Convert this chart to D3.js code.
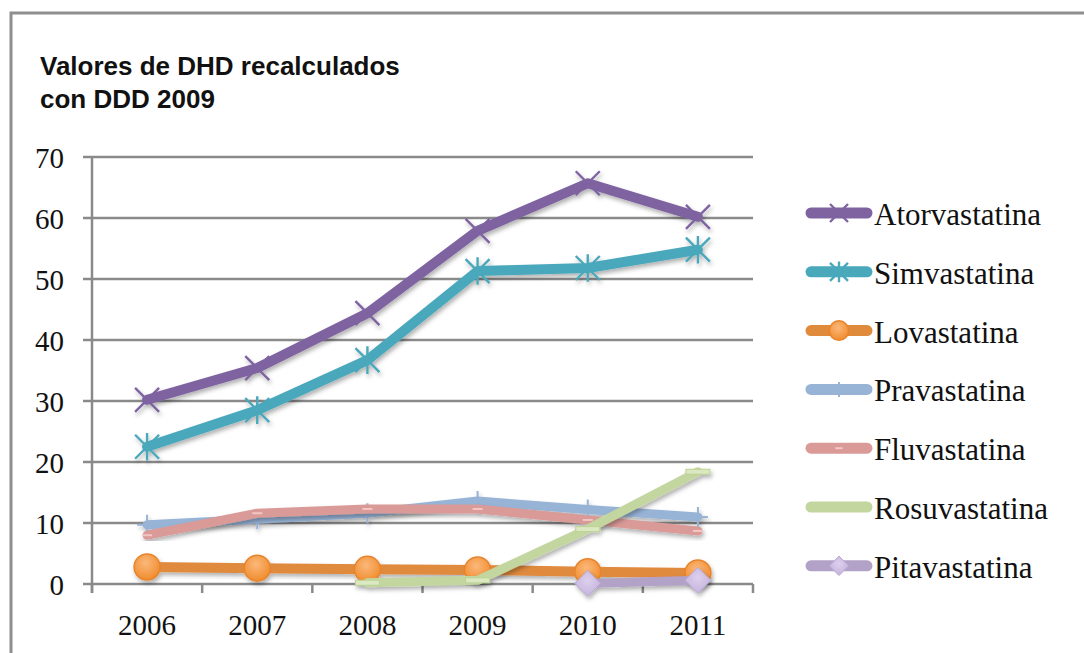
<!DOCTYPE html>
<html lang="es">
<head>
  <meta charset="UTF-8">
  <title>Valores de DHD recalculados</title>
  <style>
    html, body { margin: 0; padding: 0; background: #fff; }
    svg { display: block; }
    .title { font-family: "Liberation Sans", Arial, sans-serif; font-weight: bold; font-size: 26px; fill: #111; }
    .tick-label, .legend-label { font-family: "Liberation Serif", "Times New Roman", serif; fill: #111; }
    .tick-label { font-size: 29px; }
    .legend-label { font-size: 31px; }
  </style>
</head>
<body>
  <svg class="chart"></svg>
  <script src="https://cdnjs.cloudflare.com/ajax/libs/d3/7.8.5/d3.min.js"></script>
  <script>
    // datos
    const years = ['2006', '2007', '2008', '2009', '2010', '2011'];
    const yTicks = [0, 10, 20, 30, 40, 50, 60, 70];
    const seriesNames = ['Atorvastatina', 'Simvastatina', 'Lovastatina', 'Pravastatina', 'Fluvastatina', 'Rosuvastatina', 'Pitavastatina'];
    const atorvastatina = [30.2, 35.4, 44.4, 57.9, 65.7, 60.2];
    const simvastatina = [22.5, 28.5, 36.7, 51.3, 51.8, 54.8];
    const lovastatina = [2.8, 2.6, 2.4, 2.3, 2.0, 1.8];
    const pravastatina = [9.7, 10.6, 11.6, 13.6, 12.2, 11.0];
    const fluvastatina = [8.0, 11.6, 12.3, 12.3, 10.5, 8.7];
    const rosuvastatina = [null, null, 0.2, 0.6, 9.0, 18.4];
    const pitavastatina = [null, null, null, null, 0.1, 0.6];

    (function (d3) {
      const values = [atorvastatina, simvastatina, lovastatina, pravastatina, fluvastatina, rosuvastatina, pitavastatina];
      const colors = ['#7f63a1', '#4aa8bb', '#e08a3c', '#97b3d6', '#d99a98', '#c3d6a0', '#b3a2c8'];
      const markers = ['x', 'star', 'circle', 'plus', 'dash', 'bar', 'diamond'];
      const lineWidths = [10, 10, 10, 9, 9, 9, 9];

      const W = 1084, H = 653;
      const plotLeft = 92, plotRight = 753, plotTop = 157, plotBottom = 584;

      const svg = d3.select('svg.chart').attr('width', W).attr('height', H);

      const defs = svg.append('defs');
      const shadow = defs.append('filter').attr('id', 'shadow')
        .attr('x', '-20%').attr('y', '-20%').attr('width', '140%').attr('height', '140%');
      shadow.append('feDropShadow').attr('dx', 1.5).attr('dy', 3).attr('stdDeviation', 2)
        .attr('flood-color', '#000').attr('flood-opacity', 0.3);

      const orangeGrad = defs.append('radialGradient').attr('id', 'orangeGrad')
        .attr('cx', '45%').attr('cy', '35%').attr('r', '65%');
      orangeGrad.append('stop').attr('offset', '0%').attr('stop-color', '#fbb87a');
      orangeGrad.append('stop').attr('offset', '100%').attr('stop-color', '#f08c2e');

      const diamondGrad = defs.append('radialGradient').attr('id', 'diamondGrad')
        .attr('cx', '50%').attr('cy', '40%').attr('r', '60%');
      diamondGrad.append('stop').attr('offset', '0%').attr('stop-color', '#ddd0ee');
      diamondGrad.append('stop').attr('offset', '100%').attr('stop-color', '#c4b3dc');

      // marco exterior
      svg.append('rect')
        .attr('x', 11).attr('y', 13).attr('width', W + 20).attr('height', H + 20)
        .attr('fill', 'none').attr('stroke', '#8e8e8e').attr('stroke-width', 3);

      // título
      const title = svg.append('text').attr('class', 'title').attr('x', 40);
      title.append('tspan').attr('x', 40).attr('y', 75).text('Valores de DHD recalculados');
      title.append('tspan').attr('x', 40).attr('y', 108).text('con DDD 2009');

      // escalas
      const xBand = d3.scaleBand().domain(years).range([plotLeft, plotRight]);
      const x = d => xBand(d) + xBand.bandwidth() / 2;
      const y = d3.scaleLinear().domain([0, 70]).range([plotBottom, plotTop]);

      // rejilla
      const grid = svg.append('g');
      grid.selectAll('line')
        .data(yTicks)
        .enter()
        .append('line')
        .attr('x1', plotLeft - 9).attr('x2', plotRight)
        .attr('y1', d => y(d)).attr('y2', d => y(d))
        .attr('stroke', '#8a8a8a').attr('stroke-width', 2.5);

      grid.selectAll('text')
        .data(yTicks)
        .enter()
        .append('text')
        .attr('class', 'tick-label')
        .attr('x', 64).attr('y', d => y(d) + 11)
        .attr('text-anchor', 'end')
        .text(d => d);

      // eje Y
      svg.append('line')
        .attr('x1', plotLeft).attr('x2', plotLeft)
        .attr('y1', plotTop).attr('y2', plotBottom + 9)
        .attr('stroke', '#8a8a8a').attr('stroke-width', 2.5);

      // eje X: marcas en los límites de cada categoría
      const bounds = years.map(d => xBand(d)).concat([plotRight]);
      svg.append('g').selectAll('line')
        .data(bounds)
        .enter()
        .append('line')
        .attr('x1', d => d).attr('x2', d => d)
        .attr('y1', plotBottom).attr('y2', plotBottom + 9)
        .attr('stroke', '#8a8a8a').attr('stroke-width', 2.5);

      svg.append('g').selectAll('text')
        .data(years)
        .enter()
        .append('text')
        .attr('class', 'tick-label')
        .attr('x', d => x(d)).attr('y', 635)
        .attr('text-anchor', 'middle')
        .text(d => d);

      function drawMarker(g, type, color, cx, cy, scale) {
        const s = scale || 1;
        if (type === 'x') {
          const r = 12 * s;
          g.append('path')
            .attr('d', `M${cx - r},${cy - r}L${cx + r},${cy + r}M${cx - r},${cy + r}L${cx + r},${cy - r}`)
            .attr('stroke', color).attr('stroke-width', 2.4).attr('fill', 'none');
        } else if (type === 'star') {
          const r = 12 * s;
          g.append('path')
            .attr('d', `M${cx - r},${cy - r}L${cx + r},${cy + r}M${cx - r},${cy + r}L${cx + r},${cy - r}M${cx},${cy - r * 1.15}L${cx},${cy + r * 1.15}`)
            .attr('stroke', color).attr('stroke-width', 2.4).attr('fill', 'none');
        } else if (type === 'circle') {
          g.append('circle')
            .attr('cx', cx).attr('cy', cy).attr('r', 13 * s)
            .attr('fill', 'url(#orangeGrad)').attr('stroke', '#e8842c').attr('stroke-width', 1.5);
        } else if (type === 'plus') {
          const r = 10 * s;
          g.append('path')
            .attr('d', `M${cx - r},${cy}L${cx + r},${cy}M${cx},${cy - r}L${cx},${cy + r}`)
            .attr('stroke', color).attr('stroke-width', 2).attr('fill', 'none');
        } else if (type === 'dash') {
          g.append('line')
            .attr('x1', cx - 5 * s).attr('x2', cx + 5 * s).attr('y1', cy).attr('y2', cy)
            .attr('stroke', '#f3c6c4').attr('stroke-width', 2);
        } else if (type === 'bar') {
          g.append('rect')
            .attr('x', cx - 12 * s).attr('y', cy - 2.5).attr('width', 24 * s).attr('height', 5)
            .attr('fill', '#dbe8c2').attr('stroke', '#bcd293').attr('stroke-width', 1);
        } else if (type === 'diamond') {
          const r = 13 * s;
          g.append('path')
            .attr('d', `M${cx},${cy - r}L${cx + r},${cy}L${cx},${cy + r}L${cx - r},${cy}Z`)
            .attr('fill', 'url(#diamondGrad)').attr('stroke', '#b9a7d2').attr('stroke-width', 1);
        }
      }

      // series
      const line = d3.line()
        .defined(d => d.v !== null)
        .x(d => x(d.year))
        .y(d => y(d.v));

      seriesNames.forEach((name, i) => {
        const pts = years.map((yr, j) => ({ year: yr, v: values[i][j] }));
        const g = svg.append('g').attr('class', 'series').attr('filter', 'url(#shadow)');
        g.append('path')
          .datum(pts)
          .attr('d', line)
          .attr('fill', 'none')
          .attr('stroke', colors[i])
          .attr('stroke-width', lineWidths[i])
          .attr('stroke-linejoin', 'round')
          .attr('stroke-linecap', 'round');
        pts.filter(d => d.v !== null).forEach(d => drawMarker(g, markers[i], colors[i], x(d.year), y(d.v)));
      });

      // leyenda
      const legend = svg.append('g').attr('class', 'legend');
      seriesNames.forEach((name, i) => {
        const ly = 213 + i * 58.8;
        const g = legend.append('g');
        g.append('line')
          .attr('x1', 811).attr('x2', 867)
          .attr('y1', ly).attr('y2', ly)
          .attr('stroke', colors[i]).attr('stroke-width', 11)
          .attr('stroke-linecap', 'round');
        if (markers[i] !== 'bar') drawMarker(g, markers[i], colors[i], 839, ly, 0.75);
        g.append('text')
          .attr('class', 'legend-label')
          .attr('x', 874).attr('y', ly + 12)
          .text(name);
      });
    })(d3);
  </script>
</body>
</html>
